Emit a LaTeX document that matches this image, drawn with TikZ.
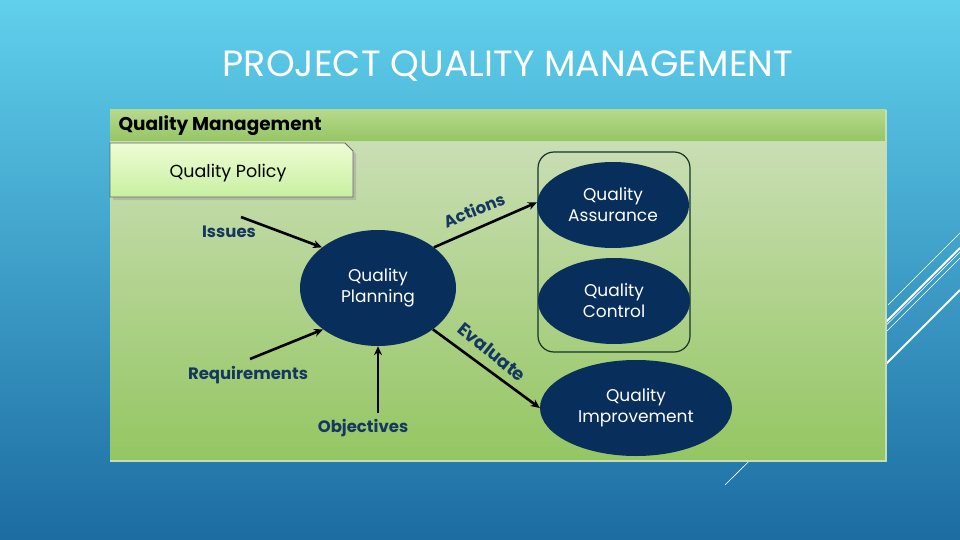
\documentclass[tikz,border=0pt]{standalone}
\usepackage{fontspec}
\setmainfont{Poppins}
\usetikzlibrary{arrows.meta,shadows,shapes.geometric}
\definecolor{bgTop}{RGB}{96,208,236}
\definecolor{bgBot}{RGB}{28,108,162}
\definecolor{pbTop}{RGB}{202,222,180}
\definecolor{pbBot}{RGB}{148,198,98}
\definecolor{hdTop}{RGB}{182,216,140}
\definecolor{hdBot}{RGB}{150,198,100}
\definecolor{pale}{RGB}{196,222,186}
\definecolor{navy}{RGB}{8,46,92}
\definecolor{lbl}{RGB}{22,56,96}
\definecolor{polTop}{RGB}{238,252,214}
\definecolor{polBot}{RGB}{200,240,160}
\definecolor{frame}{RGB}{22,52,44}
\tikzset{
  oval/.style={ellipse, fill=navy, draw=none, text=white, align=center,
    font=\fontsize{17}{21}\selectfont, inner sep=0pt},
  lab/.style={text=lbl, font=\bfseries\fontsize{16.5}{18}\selectfont},
  arr/.style={line width=2.6pt, -{Stealth[length=9pt,width=8pt]}, black},
  deco/.style={white, line width=0.6pt},
  decoT/.style={white, line width=1.8pt}
}
\begin{document}
\begin{tikzpicture}[x=1pt,y=-1pt]
\useasboundingbox (0,0) rectangle (960,540);
\shade[top color=bgTop, bottom color=bgBot] (0,0) rectangle (960,540);
% decorative lines
\draw[deco] (888,305) -- (960,233);
\draw[decoT] (870,338) -- (960,248);
\draw[deco] (725,485) -- (960,252);
\draw[deco] (870,348) -- (960,258);
\draw[decoT] (860,390) -- (960,290);
% title
\node[text=white, font=\fontsize{36.5}{40}\selectfont] (title) at (508,66) {PROJECT QUALITY MANAGEMENT};
% panel
\shade[top color=pbTop, bottom color=pbBot] (110,141) rectangle (886,461);
\shade[top color=hdTop, bottom color=hdBot] (110,110) rectangle (886,141);
\draw[pale, line width=1.5pt] (110,461) -- (886,461) -- (886,110);
\node[anchor=west, font=\bfseries\fontsize{18.5}{20}\selectfont] (qm) at (115,126) {Quality Management};
% quality policy box
\fill[black!35, opacity=0.6] (113,146) -- (348,146) -- (356,154) -- (356,200) -- (113,200) -- cycle;
\shade[top color=polTop, bottom color=polBot, draw=black!60, line width=0.8pt]
  (110,143) -- (345,143) -- (353,151) -- (353,197) -- (110,197) -- cycle;
\node[font=\fontsize{17.5}{19}\selectfont] (pol) at (228,173) {Quality Policy};
% container
\draw[frame, line width=1.2pt, rounded corners=16pt] (538,152) rectangle (690,352);
% ellipses
\node[oval, minimum width=152pt, minimum height=86pt] (qa) at (613,205) {Quality\\Assurance};
\node[oval, minimum width=152pt, minimum height=86pt] (qc) at (614,301) {Quality\\Control};
\node[oval, minimum width=156pt, minimum height=116pt] (plan) at (378,288) {Quality\\Planning};
\node[oval, minimum width=192pt, minimum height=96pt] (qi) at (636,408) {Quality\\Improvement};
% labels
\node[lab] (iss) at (229,232) {Issues};
\node[lab] (req) at (248,375) {Requirements};
\node[lab] (obj) at (363,428) {Objectives};
\node[text=lbl, font=\bfseries\fontsize{16.5}{18}\selectfont, rotate=22, inner sep=1pt] (act) at (474,210) {Actions};
\node[text=lbl, font=\bfseries\fontsize{18}{20}\selectfont, rotate=-39, inner sep=1pt] (eva) at (492,352) {Evaluate};
% connectors
\coordinate (issS) at (241,217);
\coordinate (reqS) at (250,359);
\coordinate (objS) at (378,413);
\draw[arr] (issS) -- (plan.144);
\draw[arr] (reqS) -- (plan.217);
\draw[arr] (objS) -- (plan.south);
\draw[arr] (plan.36) -- (qa.178);
\draw[arr] (plan.-37) -- (qi.west);
\end{tikzpicture}
\end{document}
